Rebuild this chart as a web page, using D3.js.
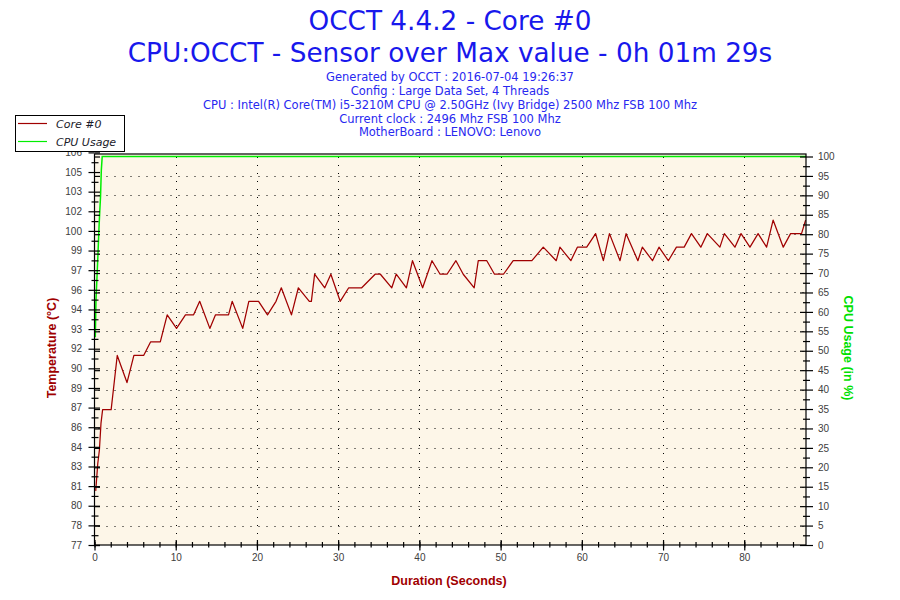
<!DOCTYPE html>
<html><head><meta charset="utf-8">
<script src="https://cdn.jsdelivr.net/npm/d3@7"></script>
<style>body{margin:0;background:#fff}svg{display:block}</style>
</head><body>
<svg id="chart" width="900" height="600"></svg>
<script>
// ---------- data ----------
const titleLines = ["OCCT 4.4.2 - Core #0", "CPU:OCCT - Sensor over Max value - 0h 01m 29s"];
const infoLines = [
  "Generated by OCCT : 2016-07-04 19:26:37",
  "Config : Large Data Set, 4 Threads",
  "CPU : Intel(R) Core(TM) i5-3210M CPU @ 2.50GHz (Ivy Bridge) 2500 Mhz FSB 100 Mhz",
  "Current clock : 2496 Mhz FSB 100 Mhz",
  "MotherBoard : LENOVO: Lenovo"
];
const seriesNames = ["Core #0", "CPU Usage"];
const xAxisTitle = "Duration (Seconds)";
const leftAxisTitle = "Temperature (°C)";
const rightAxisTitle = "CPU Usage (in %)";

const timeSec = [0.15,0.4,0.6,0.8,1.0,1.35,2.05,2.8,4.0,4.85,6.05,6.9,8.1,8.95,10.1,11.2,12.2,12.95,14.2,
  14.9,16.5,16.95,18.25,19.0,20.2,21.3,22.35,23.0,24.25,25.1,26.45,26.7,27.1,28.35,29.1,30.25,31.3,32.9,
  34.55,35.2,36.6,37.15,38.4,39.15,40.4,41.55,42.55,43.4,44.5,45.4,46.75,47.25,48.3,49.25,50.35,51.55,53.85,
  55.25,56.85,57.3,58.65,59.45,60.6,61.7,62.65,63.4,64.7,65.45,66.9,67.45,68.7,69.5,70.65,71.65,72.6,73.5,74.65,
  75.45,77.0,77.55,78.85,79.6,80.7,81.7,82.75,83.55,84.8,85.7,87.05,87.55];
const coreTemp = [81,83,84,86,87,87,87,91,89,91,91,92,92,94,93,94,94,95,93,
  94,94,95,93,95,95,94,95,96,94,96,95,95,97,96,97,95,96,96,
  97,97,96,97,96,98,96,98,97,97,98,97,96,98,98,97,97,98,98,
  99,98,99,98,99,99,100,98,100,98,100,98,99,98,99,98,99,99,100,99,
  100,99,100,99,100,99,100,99,101,99,100,100,101];

const cpuTimeSec = [0.1,0.18,0.33,0.43,0.55,0.65,0.74,0.84,0.95,87.6];
const cpuUsage   = [53.5,63,70,75,81.5,86,89.5,96.5,100,100];

const xTickValues = [0,10,20,30,40,50,60,70,80];
const cpuTickValues = [0,5,10,15,20,25,30,35,40,45,50,55,60,65,70,75,80,85,90,95,100];
const tempTickValues = [77,78.45,79.9,81.35,82.8,84.25,85.7,87.15,88.6,90.05,91.5,92.95,94.4,95.85,97.3,98.75,100.2,101.65,103.1,104.55,106];
const tempTickLabels = ["77","78","80","81","83","84","86","87","89","90","92","93","94","96","97","99","100","102","103","105","106"];
const tempDomain = [77,106];
const timeDomain = [0,87.6];

// ---------- styles ----------
const C = {
  bg:"#fdf6e8", temp:"#a00000", cpu:"#00ee00", title:"#1818ec", info:"#2828f0",
  tick:"#404040"
};
const L = {left:94.5, right:806, top:154, bottom:545, cpuTop:156.5, tempTop:152.4, headX:450};

const svg = d3.select("#chart");
const x = d3.scaleLinear().domain(timeDomain).range([L.left, L.right]);
const yCpu = d3.scaleLinear().domain([0,100]).range([L.bottom, L.cpuTop]);
const yTemp = d3.scaleLinear().domain(tempDomain).range([L.bottom, L.tempTop]);

// titles
svg.selectAll("text.title").data(titleLines).join("text").attr("class","title")
  .attr("x",L.headX).attr("y",(d,i)=>30+i*32).attr("text-anchor","middle")
  .attr("font-family","DejaVu Sans").attr("font-size",26.3).attr("fill",C.title).text(d=>d);
svg.selectAll("text.info").data(infoLines).join("text").attr("class","info")
  .attr("x",L.headX).attr("y",(d,i)=>81.3+i*13.75).attr("text-anchor","middle")
  .attr("font-family","DejaVu Sans").attr("font-size",11.5).attr("fill",C.info).text(d=>d);

// plot background
svg.append("rect").attr("x",L.left).attr("y",L.top).attr("width",L.right-L.left).attr("height",L.bottom-L.top).attr("fill",C.bg);

// grid
const grid = svg.append("g").attr("stroke","#000").attr("stroke-width",1).attr("stroke-dasharray","1,7");
grid.selectAll("line.h").data(cpuTickValues.filter(v=>v>0&&v<100)).join("line").attr("class","h")
  .attr("x1",L.left+4).attr("x2",L.right).attr("y1",d=>Math.round(yCpu(d))+0.5).attr("y2",d=>Math.round(yCpu(d))+0.5);
grid.selectAll("line.v").data(xTickValues.filter(v=>v>0)).join("line").attr("class","v")
  .attr("y1",L.top+3).attr("y2",L.bottom).attr("x1",d=>Math.round(x(d))+0.5).attr("x2",d=>Math.round(x(d))+0.5);

// series
const tempPts = timeSec.map((t,i)=>({t, v:coreTemp[i]}));
const cpuPts = cpuTimeSec.map((t,i)=>({t, v:cpuUsage[i]}));
svg.append("path").datum(cpuPts).attr("fill","none").attr("stroke",C.cpu).attr("stroke-width",1.5)
  .attr("d", d3.line().x(d=>x(d.t)).y(d=>yCpu(d.v)));
svg.append("path").datum(tempPts).attr("fill","none").attr("stroke",C.temp).attr("stroke-width",1.25)
  .attr("stroke-linejoin","round")
  .attr("d", d3.line().x(d=>x(d.t)).y(d=>yTemp(d.v)));

// frame
svg.append("rect").attr("x",L.left).attr("y",L.top).attr("width",L.right-L.left).attr("height",L.bottom-L.top)
  .attr("fill","none").attr("stroke","#000").attr("stroke-width",1.2);

const noDomain = g => g.select(".domain").remove();
const styleTicks = g => { g.selectAll("line").attr("stroke","#000").attr("stroke-width",1.2);
  g.selectAll("text").attr("font-family","'Liberation Sans', Arial").attr("font-size",10).attr("fill",C.tick); };
const cpuHalf = cpuTickValues.slice(0,-1).map((v,i)=>(v+cpuTickValues[i+1])/2);
const tempHalf = tempTickValues.slice(0,-1).map((v,i)=>(v+tempTickValues[i+1])/2);
const minorX = d3.range(0, 88, 2);
const addAxis = (tx, ty, axis) => svg.append("g").attr("transform",`translate(${tx},${ty})`).call(axis).call(noDomain).call(styleTicks);

// bottom axis
addAxis(0, L.bottom, d3.axisBottom(x).tickValues(xTickValues).tickSize(5.5).tickPadding(3.5).tickFormat(d3.format("d")));
addAxis(0, L.bottom, d3.axisTop(x).tickValues(xTickValues).tickSize(5).tickFormat(""));
addAxis(0, L.bottom, d3.axisBottom(x).tickValues(minorX).tickSize(2.5).tickFormat(""));
addAxis(0, L.bottom, d3.axisTop(x).tickValues(minorX).tickSize(3).tickFormat(""));

// left axis (temperature)
addAxis(L.left, 0, d3.axisLeft(yTemp).tickValues(tempTickValues).tickSize(6).tickPadding(6.5).tickFormat((d,i)=>tempTickLabels[i]));
addAxis(L.left, 0, d3.axisRight(yTemp).tickValues(tempTickValues).tickSize(5.5).tickFormat(""));
addAxis(L.left, 0, d3.axisLeft(yTemp).tickValues(tempHalf).tickSize(3).tickFormat(""));
addAxis(L.left, 0, d3.axisRight(yTemp).tickValues(tempHalf).tickSize(4).tickFormat(""));
addAxis(L.left, 0, d3.axisRight(yCpu).tickValues(cpuTickValues).tickSize(5.5).tickFormat(""));

// right axis (CPU usage)
addAxis(L.right, 0, d3.axisRight(yCpu).tickValues(cpuTickValues).tickSize(7).tickPadding(5).tickFormat(d3.format("d")));
addAxis(L.right, 0, d3.axisLeft(yCpu).tickValues(cpuTickValues).tickSize(6).tickFormat(""));
addAxis(L.right, 0, d3.axisRight(yCpu).tickValues(cpuHalf).tickSize(4).tickFormat(""));
addAxis(L.right, 0, d3.axisLeft(yCpu).tickValues(cpuHalf).tickSize(3).tickFormat(""));

// axis titles
const bold = {"font-family":"'Liberation Sans', Arial","font-size":12.5,"font-weight":"bold"};
const at = (sel,o)=>{for(const k in o) sel.attr(k,o[k]); return sel;};
at(svg.append("text").attr("x",449).attr("y",585).attr("text-anchor","middle").attr("fill",C.temp),bold).text(xAxisTitle);
at(svg.append("text").attr("transform","translate(56,348) rotate(-90)").attr("text-anchor","middle").attr("fill",C.temp),bold).text(leftAxisTitle);
at(svg.append("text").attr("transform","translate(844,348) rotate(90)").attr("text-anchor","middle").attr("fill","#00e000"),bold).text(rightAxisTitle);

// legend
const lg = svg.append("g");
lg.append("rect").attr("x",15.5).attr("y",115.5).attr("width",109).attr("height",36).attr("fill","#fff").attr("stroke","#000").attr("stroke-width",1);
const legendColors = [C.temp, C.cpu];
const items = lg.selectAll("g.item").data(seriesNames).join("g").attr("class","item")
  .attr("transform",(d,i)=>`translate(0,${123.5+i*18})`);
items.append("line").attr("x1",18).attr("x2",47).attr("stroke",(d,i)=>legendColors[i]).attr("stroke-width",1.2);
items.append("text").attr("x",56).attr("y",4).attr("font-family","DejaVu Sans").attr("font-style","italic")
  .attr("font-size",11).attr("fill","#1a1a2a").text(d=>d);
</script>
</body></html>
